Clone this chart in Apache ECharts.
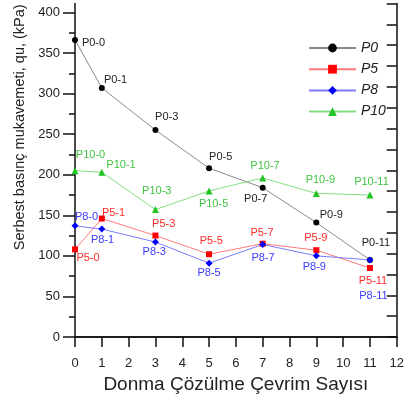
<!DOCTYPE html>
<html>
<head>
<meta charset="utf-8">
<script src="https://cdn.jsdelivr.net/npm/echarts@6/dist/echarts.min.js"></script>
<style>
  html, body { margin: 0; padding: 0; background: #fff; }
  #chart { width: 407px; height: 400px; }
</style>
</head>
<body>
<div id="chart"></div>
<script>
// Donma-çözülme çevrim sayısı ve serbest basınç değerleri (kPa)
const cycles = [0, 1, 3, 5, 7, 9, 11];
const p0 = [366, 307, 255, 208, 184, 141, 95];
const p5 = [108, 146, 125, 102, 115, 107, 85];
const p8 = [137, 133, 117, 91, 114, 100, 95];
const p10 = [205, 203, 157, 180, 196, 177, 175];
const seriesNames = ['P0', 'P5', 'P8', 'P10'];
const xTickValues = [0, 1, 2, 3, 4, 5, 6, 7, 8, 9, 10, 11, 12];
const yMajorTicks = [0, 50, 100, 150, 200, 250, 300, 350, 400];
const yMinorTicks = [25, 75, 125, 175, 225, 275, 325, 375];

// etiketlerin noktaya göre kaydırması (sadece görünüm)
const labelOffsets = {
  P0: [[18.5, 2.7], [13.7, -7.7], [11.3, -13], [11.6, -11.6], [-7, 11.6], [15, -7.7], [6, -17]],
  P5: [[13, 8.4], [11.7, -6], [8.3, -11.7], [2.3, -13.3], [-0.7, -10.6], [-0.5, -12.7], [3, 12.7]],
  P8: [[11.5, -9], [0.7, 11], [-1.2, 9.7], [0, 9.4], [0.3, 13], [-2, 11], [3.5, 35.7]],
  P10: [[15.5, -15.7], [19.2, -7.7], [1.3, -18.6], [4.5, 12.6], [2.3, -11.6], [4, -13.3], [1.5, -13.3]],
};

const styles = {
  P0: { symbol: 'circle', size: 6, marker: '#000000', line: '#8a8a8a', text: '#222222' },
  P5: { symbol: 'rect', size: 6, marker: '#ff0000', line: '#ff7a7a', text: '#ff2a2a' },
  P8: { symbol: 'diamond', size: 7, marker: '#0000ff', line: '#7a7aff', text: '#3b3bff' },
  P10: { symbol: 'triangle', size: 7, marker: '#22c322', line: '#80de80', text: '#3fc43f' },
};

const values = { P0: p0, P5: p5, P8: p8, P10: p10 };
const font = 'Liberation Sans, Arial, sans-serif';

const series = seriesNames.map((name) => {
  const st = styles[name];
  return {
    name: name,
    type: 'line',
    xAxisIndex: 0,
    yAxisIndex: 0,
    symbol: st.symbol,
    symbolSize: st.size,
    itemStyle: { color: st.marker },
    lineStyle: { color: st.line, width: 1 },
    label: {
      show: true,
      position: 'inside',
      fontSize: 11,
      fontFamily: font,
      color: st.text,
      formatter: (p) => name + '-' + p.value[0],
    },
    data: values[name].map((v, i) => ({
      value: [cycles[i], v],
      label: { offset: labelOffsets[name][i] },
    })),
  };
});

const chart = echarts.init(document.getElementById('chart'));

const axisLine = { show: true, lineStyle: { color: '#111', width: 1.5 } };

chart.setOption({
  animation: false,
  grid: { left: 75, right: 6, top: 3.5, bottom: 63 },
  legend: {
    orient: 'vertical',
    left: 303,
    top: 36,
    itemWidth: 47,
    itemHeight: 11,
    itemGap: 7.2,
    data: seriesNames,
    textStyle: {
      fontSize: 14,
      fontStyle: 'italic',
      fontFamily: font,
      color: '#222',
    },
  },
  xAxis: [
    {
      type: 'value',
      position: 'bottom',
      min: 0,
      max: 12,
      interval: 1,
      name: 'Donma Çözülme Çevrim Sayısı',
      nameLocation: 'middle',
      nameGap: 37,
      nameTextStyle: { fontSize: 19, fontFamily: font, color: '#222' },
      axisLine: axisLine,
      axisTick: { show: true, inside: false, length: 10, lineStyle: { color: '#111', width: 1.5 } },
      axisLabel: { fontSize: 13, fontFamily: font, color: '#222', margin: 20 },
      splitLine: { show: false },
    },
    {
      type: 'value',
      position: 'top',
      min: 0,
      max: 12,
      interval: 1,
      axisLine: axisLine,
      axisTick: { show: true, inside: true, length: 10, lineStyle: { color: '#111', width: 1.5 } },
      axisLabel: { show: false },
      splitLine: { show: false },
    },
  ],
  yAxis: [
    {
      type: 'value',
      position: 'left',
      min: 0,
      max: 411,
      name: 'Serbest basınç mukavemeti, qu, (kPa)',
      nameLocation: 'middle',
      nameRotate: 90,
      nameGap: 48,
      nameTextStyle: { fontSize: 14.5, fontFamily: font, color: '#222', padding: [0, 0, 0, 86] },
      axisLine: axisLine,
      axisTick: { show: true, inside: false, length: 12, customValues: yMajorTicks, lineStyle: { color: '#111', width: 1.5 } },
      axisLabel: { fontSize: 13, fontFamily: font, color: '#222', margin: 15, customValues: yMajorTicks },
      splitLine: { show: false },
    },
    {
      type: 'value',
      position: 'left',
      min: 0,
      max: 411,
      axisLine: { show: false },
      axisTick: { show: true, inside: false, length: 6, customValues: yMinorTicks, lineStyle: { color: '#111', width: 1.5 } },
      axisLabel: { show: false },
      splitLine: { show: false },
    },
    {
      type: 'value',
      position: 'right',
      min: 0,
      max: 400,
      interval: 25,
      axisLine: axisLine,
      axisTick: { show: true, inside: true, length: 10, lineStyle: { color: '#111', width: 1.5 } },
      axisLabel: { show: false },
      splitLine: { show: false },
    },
  ],
  series: series,
});
</script>
</body>
</html>
